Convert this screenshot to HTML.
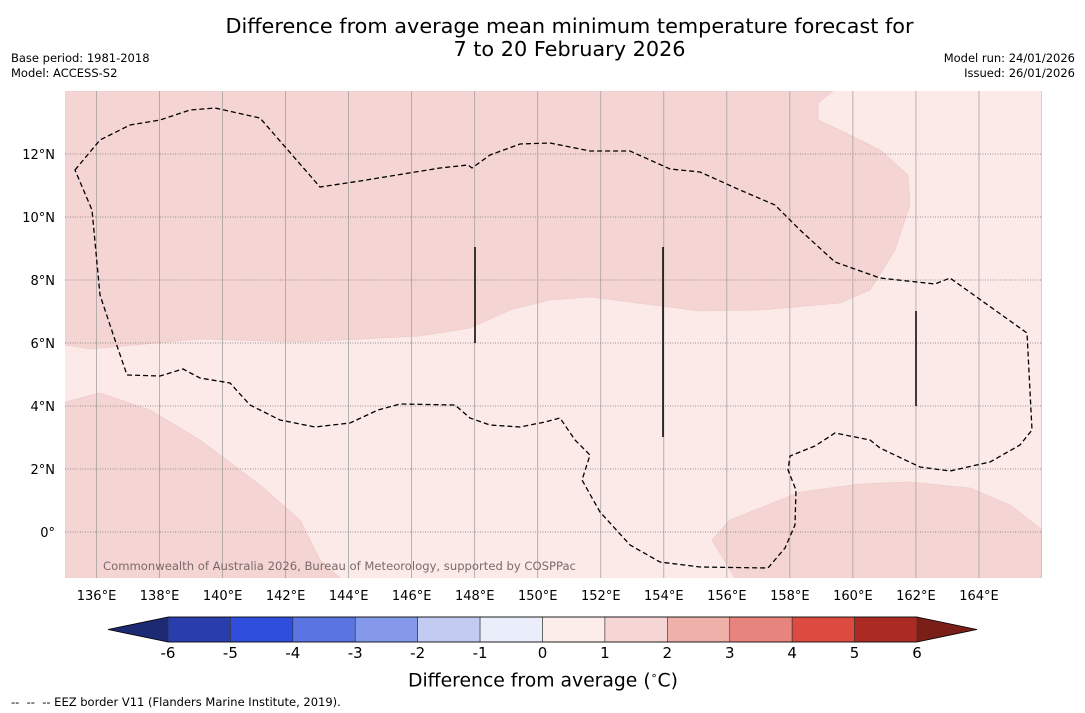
<!DOCTYPE html>
<html><head><meta charset="utf-8"><style>
body{margin:0;background:#fff;font-family:"DejaVu Sans","Liberation Sans",sans-serif}
#wrap{position:relative;width:1085px;height:713px;overflow:hidden}
.t{position:absolute;white-space:nowrap}
</style></head><body>
<div id="wrap">
<div class="t" style="left:0;width:1139px;text-align:center;top:15px;font-size:20.8px;line-height:23px;color:#000">Difference from average mean minimum temperature forecast for<br>7 to 20 February 2026</div>
<div class="t" style="left:11px;top:51px;font-size:11.5px;line-height:15px">Base period: 1981-2018<br>Model: ACCESS-S2</div>
<div class="t" style="right:10px;top:51px;font-size:11.5px;line-height:15px;text-align:right">Model run: 24/01/2026<br>Issued: 26/01/2026</div>
<svg id="svg" width="1085" height="713" style="position:absolute;left:0;top:0"></svg>
<div class="t" style="left:408px;top:669px;font-size:18.8px">Difference from average (<sup style="font-size:11px">∘</sup>C)</div>
<div class="t" style="left:11px;top:695px;font-size:11.5px">-- &nbsp;-- &nbsp;-- EEZ border V11 (Flanders Marine Institute, 2019).</div>
</div>
<script>
const lonTicks=[136,138,140,142,144,146,148,150,152,154,156,158,160,162,164];
const latTicks=[0,2,4,6,8,10,12];
const cbLevels=[-6,-5,-4,-3,-2,-1,0,1,2,3,4,5,6];
const cbColors=['#2a3dac','#2f4ede','#5a74e2','#8599ea','#c3cbf3','#eaedfa','#fcecea','#f6d6d4','#efb0aa','#e8847e','#dc4a40','#ab2b22'];
const NS='http://www.w3.org/2000/svg';
const FF='DejaVu Sans, Liberation Sans, sans-serif';
const svg=document.getElementById('svg');
const X0=65,X1=1042,Y0=91,Y1=578;
const lonMin=135,lonMax=166,latMax=14,latMin=-1.46;
const xs=l=>X0+(l-lonMin)/(lonMax-lonMin)*(X1-X0);
const ys=l=>Y0+(latMax-l)/(latMax-latMin)*(Y1-Y0);
function mk(t,a,p){const e=document.createElementNS(NS,t);for(const k in a)e.setAttribute(k,a[k]);(p||svg).appendChild(e);return e;}
const clip=mk('clipPath',{id:'cl'});mk('rect',{x:X0,y:Y0,width:X1-X0,height:Y1-Y0},clip);
const g=mk('g',{'clip-path':'url(#cl)'});
let e=mk('rect',{x:X0,y:Y0,width:X1-X0,height:Y1-Y0,fill:'#fbeae8'},g);


const shapes=[
 ['anomaly-1-2-north','65,91 65,345 90,349 200,339 300,342 420,336 470,328 510,310 550,300 590,297 630,302 700,311 760,310 840,303 870,290 895,250 910,205 908,175 880,150 840,130 818,120 818,103 833,91'],
 ['anomaly-1-2-southwest','65,402 100,393 150,410 200,440 260,485 300,520 320,560 340,578 65,578'],
 ['anomaly-1-2-southeast','712,540 730,520 800,492 860,484 910,482 970,488 1010,505 1042,530 1042,578 735,578']];
for(const [n,p] of shapes){e=mk('polygon',{points:p,fill:'#f5d5d3',stroke:'#ecc8c6','stroke-width':0.6},g);

}
for(const l of lonTicks.concat([166])){e=mk('line',{x1:xs(l),x2:xs(l),y1:Y0,y2:Y1,stroke:'#999','stroke-width':0.7},g);

}
for(const l of latTicks){e=mk('line',{x1:X0,x2:X1,y1:ys(l),y2:ys(l),stroke:'#777','stroke-width':0.7,'stroke-dasharray':'1,1.5'},g);

}
e=mk('polygon',{points:'75,170 100,140 130,125 160,120 190,110 215,108 260,118 320,187 360,181 440,168 468,165 472,168 490,155 520,144 550,143 590,151 630,151 670,169 700,172 740,190 775,205 800,230 835,262 880,278 935,284 950,278 1027,333 1032,430 1020,445 990,462 950,471 920,467 880,448 870,440 835,433 815,446 790,456 788,470 796,490 795,525 785,548 768,568 700,567 660,562 630,545 600,512 582,480 590,455 575,440 560,418 545,422 520,427 490,425 470,418 455,405 400,404 378,410 350,423 315,427 280,420 250,405 230,383 200,378 183,369 160,376 127,375 115,340 100,295 92,210',fill:'none',stroke:'#000','stroke-width':1.3,'stroke-dasharray':'5,3'},g);


for(const [x,a,b] of [[475,247,343],[663,247,437],[916,311,406]]){e=mk('line',{x1:x,x2:x,y1:a,y2:b,stroke:'#000','stroke-width':1.5},g);

}
e=mk('text',{x:103,y:570,'font-size':11.6,fill:'#7a6a6a','font-family':FF},g);e.textContent='Commonwealth of Australia 2026, Bureau of Meteorology, supported by COSPPac';


for(const l of lonTicks){e=mk('text',{x:xs(l),y:600,'text-anchor':'middle','font-size':13,'font-family':FF});e.textContent=l+'°E';

}
for(const l of latTicks){e=mk('text',{x:55,y:ys(l)+5,'text-anchor':'end','font-size':13,'font-family':FF});e.textContent=l===0?'0°':l+'°N';

}
const CB0=168,CB1=917,CY0=617,CY1=642,w=(CB1-CB0)/cbColors.length;
e=mk('polygon',{points:`108,${(CY0+CY1)/2} ${CB0},${CY0} ${CB0},${CY1}`,fill:'#1b2a72'});


e=mk('polygon',{points:`977,${(CY0+CY1)/2} ${CB1},${CY0} ${CB1},${CY1}`,fill:'#7a1e18'});


cbColors.forEach((c,i)=>{e=mk('rect',{x:CB0+i*w,y:CY0,width:w,height:CY1-CY0,fill:c,stroke:'#333','stroke-width':0.6});

});
mk('polygon',{points:`108,${(CY0+CY1)/2} ${CB0},${CY0} ${CB1},${CY0} 977,${(CY0+CY1)/2} ${CB1},${CY1} ${CB0},${CY1}`,fill:'none',stroke:'#000','stroke-width':0.8});
cbLevels.forEach((v,i)=>{e=mk('text',{x:CB0+i*w,y:658,'text-anchor':'middle','font-size':15,'font-family':FF});e.textContent=v;

});
</script>
</body></html>
